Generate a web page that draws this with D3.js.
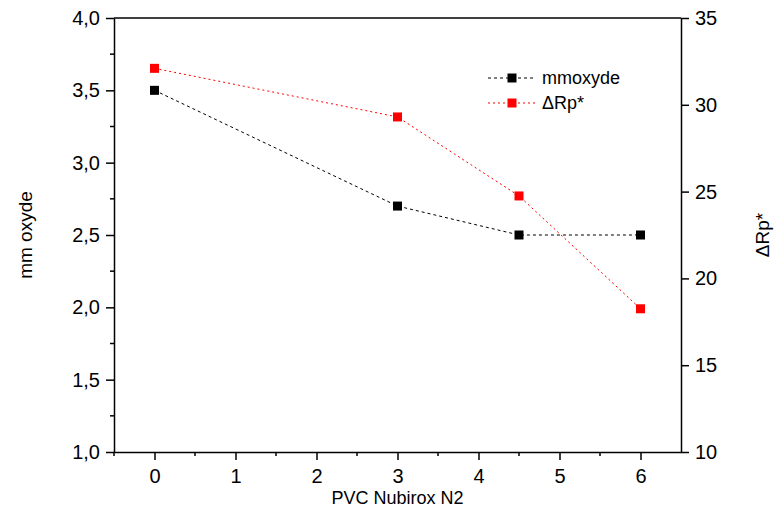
<!DOCTYPE html>
<html>
<head>
<meta charset="utf-8">
<script src="https://cdn.jsdelivr.net/npm/d3@7"></script>
<style>
  body { margin: 0; background: #fff; }
  text { font-family: "Liberation Sans", Arial, sans-serif; }
</style>
</head>
<body>
<svg id="chart"></svg>
<script>
// data
var pvc = [0, 3, 4.5, 6];
var mmoxyde = [3.5, 2.7, 2.5, 2.5];
var deltaRp = [32.1, 29.3, 24.75, 18.25];
var xTicks = [0, 1, 2, 3, 4, 5, 6];
var leftTicks = [1.0, 1.5, 2.0, 2.5, 3.0, 3.5, 4.0];
var rightTicks = [10, 15, 20, 25, 30, 35];

var width = 774, height = 524;
var margin = {top: 18, right: 93, bottom: 72, left: 114};

var svg = d3.select("#chart")
  .attr("width", width)
  .attr("height", height);

var x = d3.scaleLinear().domain([-0.5, 6.5]).range([margin.left, width - margin.right]);
var yL = d3.scaleLinear().domain([1, 4]).range([height - margin.bottom, margin.top]);
var yR = d3.scaleLinear().domain([10, 35]).range([height - margin.bottom, margin.top]);

var fmt = function(d) { return d3.format(".1f")(d).replace(".", ","); };

// frame top
svg.append("line")
  .attr("x1", x(-0.5)).attr("x2", x(6.5))
  .attr("y1", yL(4)).attr("y2", yL(4))
  .attr("stroke", "#000").attr("stroke-width", 1.5);

// x axis
var gx = svg.append("g")
  .attr("transform", "translate(0," + yL(1) + ")")
  .call(d3.axisBottom(x).tickValues(xTicks).tickFormat(d3.format("d")).tickSize(8).tickSizeOuter(0).tickPadding(6));
gx.append("g").selectAll("line")
  .data([-0.5, 0.5, 1.5, 2.5, 3.5, 4.5, 5.5])
  .enter().append("line")
  .attr("x1", function(d) { return x(d); }).attr("x2", function(d) { return x(d); })
  .attr("y1", 0).attr("y2", 4).attr("stroke", "#000").attr("stroke-width", 1.5);

// left axis
var gl = svg.append("g")
  .attr("transform", "translate(" + x(-0.5) + ",0)")
  .call(d3.axisLeft(yL).tickValues(leftTicks).tickFormat(fmt).tickSize(8).tickSizeOuter(0).tickPadding(6));
gl.append("g").selectAll("line")
  .data([1.25, 1.75, 2.25, 2.75, 3.25, 3.75])
  .enter().append("line")
  .attr("y1", function(d) { return yL(d); }).attr("y2", function(d) { return yL(d); })
  .attr("x1", 0).attr("x2", -4).attr("stroke", "#000").attr("stroke-width", 1.5);

// right axis
var gr = svg.append("g")
  .attr("transform", "translate(" + x(6.5) + ",0)")
  .call(d3.axisRight(yR).tickValues(rightTicks).tickSize(8).tickSizeOuter(0).tickPadding(6));

svg.selectAll(".domain").attr("stroke-width", 1.5);
svg.selectAll(".tick line").attr("stroke-width", 1.5);
svg.selectAll(".tick text").attr("font-size", 20).attr("fill", "#000")
  .style("font-family", "'Liberation Sans', Arial, sans-serif");
gx.selectAll(".tick text").attr("dy", "0.85em");

// axis titles
svg.append("text")
  .attr("x", (x(-0.5) + x(6.5)) / 2).attr("y", 504)
  .attr("text-anchor", "middle").attr("font-size", 18)
  .text("PVC Nubirox N2");
svg.append("text")
  .attr("transform", "translate(32," + (yL(1) + yL(4)) / 2 + ") rotate(-90)")
  .attr("text-anchor", "middle").attr("font-size", 19)
  .text("mm oxyde");
svg.append("text")
  .attr("transform", "translate(769," + (yL(1) + yL(4)) / 2 + ") rotate(-90)")
  .attr("text-anchor", "middle").attr("font-size", 19)
  .text("\u0394Rp*");

// series
var black = pvc.map(function(d, i) { return [d, mmoxyde[i]]; });
var red = pvc.map(function(d, i) { return [d, deltaRp[i]]; });

svg.append("path")
  .datum(black)
  .attr("fill", "none").attr("stroke", "#000").attr("stroke-width", 1)
  .attr("stroke-dasharray", "3,3")
  .attr("d", d3.line().x(function(d) { return x(d[0]); }).y(function(d) { return yL(d[1]); }));
svg.append("path")
  .datum(red)
  .attr("fill", "none").attr("stroke", "#ff0000").attr("stroke-width", 1)
  .attr("stroke-dasharray", "2,3")
  .attr("d", d3.line().x(function(d) { return x(d[0]); }).y(function(d) { return yR(d[1]); }));

var ms = 9;
svg.selectAll(".mblack").data(black).enter().append("rect")
  .attr("x", function(d) { return x(d[0]) - ms / 2; })
  .attr("y", function(d) { return yL(d[1]) - ms / 2; })
  .attr("width", ms).attr("height", ms).attr("fill", "#000");
svg.selectAll(".mred").data(red).enter().append("rect")
  .attr("x", function(d) { return x(d[0]) - ms / 2; })
  .attr("y", function(d) { return yR(d[1]) - ms / 2; })
  .attr("width", ms).attr("height", ms).attr("fill", "#ff0000");

// legend
var legend = [
  {name: "mmoxyde", color: "#000", dash: "3,3", y: 78},
  {name: "\u0394Rp*", color: "#ff0000", dash: "2,3", y: 103}
];
var lg = svg.selectAll(".leg").data(legend).enter().append("g");
lg.append("line")
  .attr("x1", 488).attr("x2", 535)
  .attr("y1", function(d) { return d.y; }).attr("y2", function(d) { return d.y; })
  .attr("stroke", function(d) { return d.color; }).attr("stroke-dasharray", function(d) { return d.dash; });
lg.append("rect")
  .attr("x", 512 - ms / 2).attr("y", function(d) { return d.y - ms / 2; })
  .attr("width", ms).attr("height", ms).attr("fill", function(d) { return d.color; });
lg.append("text")
  .attr("x", 542).attr("y", function(d) { return d.y; }).attr("dy", "0.35em")
  .attr("font-size", 18)
  .text(function(d) { return d.name; });
</script>
</body>
</html>
